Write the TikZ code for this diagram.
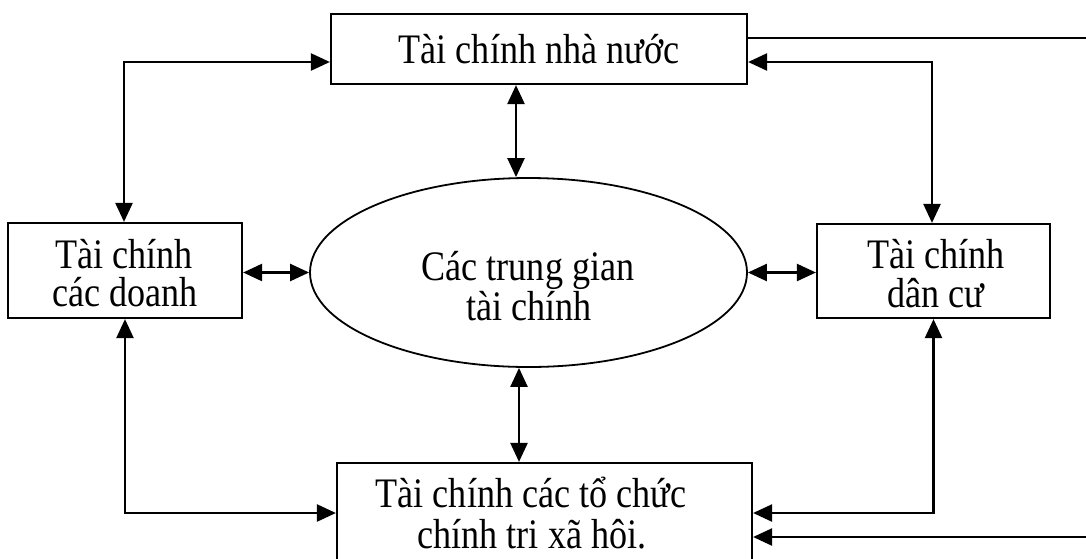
\documentclass[tikz,border=0pt]{standalone}
\usepackage{fontspec}
\setmainfont{Liberation Serif}[FakeStretch=0.86]
\usetikzlibrary{arrows.meta,shapes.geometric}
\begin{document}
\begin{tikzpicture}[x=1pt,y=-1pt,
  box/.style={draw,line width=2.2pt,inner sep=0pt},
  oval/.style={draw,ellipse,line width=1.8pt,inner sep=0pt},
  lbl/.style={anchor=base,inner sep=0pt,font=\fontsize{42}{42}\selectfont},
  link/.style={line width=2.4pt,line join=miter},
  tip/.style={-{Triangle[length=19pt,width=17pt]}},
  tips/.style={{Triangle[length=19pt,width=17pt]}-{Triangle[length=19pt,width=17pt]}}]
\useasboundingbox (0,0) rectangle (1086,558);
\fill[white] (0,0) rectangle (1086,558);
% shapes
\node[box,minimum width=416pt,minimum height=70pt] (nn) at (539,49) {};
\node[box,minimum width=234pt,minimum height=95pt] (dn) at (125,270.5) {};
\node[box,minimum width=233pt,minimum height=94pt] (dc) at (933.5,271) {};
\node[oval,minimum width=437pt,minimum height=189pt] (tg) at (528.5,272.5) {};
\node[box,minimum width=415pt,minimum height=150pt] (xh) at (544.5,538) {};
% texts
\node[lbl] (nn1) at (539,63) {Tài chính nhà nước};
\node[lbl] (dn1) at (124,268) {Tài chính};
\node[lbl] (dn2) at (125,306) {các doanh};
\node[lbl] (dc1) at (936,268) {Tài chính};
\node[lbl] (dc2) at (936,307) {dân cư};
\node[lbl] (tg1) at (528,280) {Các trung gian};
\node[lbl] (tg2) at (529,320) {tài chính};
\node[lbl] (xh1) at (531,507) {Tài chính các tổ chức};
\node[lbl] (xh2) at (532,548) {chính tri xã hôi.};
% column/row coordinates
\coordinate (cL) at (124,62);
\coordinate (cR) at (932,62);
\coordinate (cT) at (516,0);
\coordinate (cB) at (519,0);
\coordinate (rB) at (0,513);
\coordinate (eT) at (1086,38);
\coordinate (eB) at (1086,537);
% connectors
\draw[link,tips] (dn.north -| cL) |- (nn.west |- cL);
\draw[link,tips] (dc.north -| cR) |- (nn.east |- cR);
\draw[link,tips] (nn.south -| cT) -- (tg.north -| cT);
\draw[link,tips] (xh.north -| cB) -- (tg.south -| cB);
\draw[link,tips] (dn.east |- tg.west) -- (tg.west);
\draw[link,tips] (tg.east) -- (dc.west |- tg.east);
\draw[link,tips] (dn.south) |- (xh.west |- rB);
\draw[link,tips] (dc.south) |- (xh.east |- rB);
\draw[link] (nn.east |- eT) -- (eT);
\draw[link,tip] (eB) -- (xh.east |- eB);
\end{tikzpicture}
\end{document}
